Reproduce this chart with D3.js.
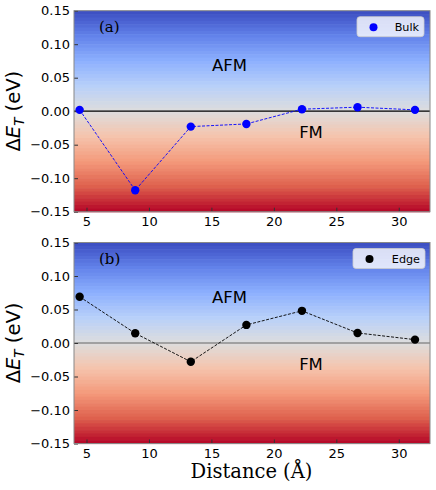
<!DOCTYPE html>
<html>
<head>
<meta charset="utf-8">
<script src="https://cdn.jsdelivr.net/npm/d3@7"></script>
<style>
  body { margin: 0; background: #fff; }
  text { font-family: "DejaVu Sans", sans-serif; }
</style>
</head>
<body>
<div id="chart"></div>
<script>
// data
var distance = [4.45, 8.9, 13.35, 17.8, 22.25, 26.7, 31.3];
var bulkDE = [0.002, -0.118, -0.023, -0.019, 0.003, 0.006, 0.002];
var edgeDE = [0.069, 0.0145, -0.028, 0.027, 0.048, 0.015, 0.005];
var xTicks = [5, 10, 15, 20, 25, 30];
var yTicks = [-0.15, -0.10, -0.05, 0.00, 0.05, 0.10, 0.15];

var svgWidth = 436, svgHeight = 490;
var margin = {left: 74, right: 6};
var width = svgWidth - margin.left - margin.right;
var panelH = 201;

var svg = d3.select("#chart").append("svg")
    .attr("width", svgWidth)
    .attr("height", svgHeight);

var x = d3.scaleLinear().domain([4, 32.5]).range([0, width]);

// coolwarm, reversed so blue sits on top
var coolwarm = d3.scaleLinear()
    .domain([0, 0.125, 0.25, 0.375, 0.5, 0.625, 0.75, 0.875, 1])
    .range(["#3b4cc0", "#6282ea", "#8db0fe", "#b8d0f9", "#dddddd",
            "#f5c4ad", "#f49a7b", "#de604d", "#b40426"]);

var panels = [
    {top: 10.7, values: bulkDE, color: "blue", line: "blue", zero: "#000", tag: "(a)", name: "Bulk",
     legend: {x: 357, w: 67}},
    {top: 242.5, values: edgeDE, color: "black", line: "#000", zero: "#666", tag: "(b)", name: "Edge",
     legend: {x: 353, w: 72}}
];

panels.forEach(function(p, i) {
    var g = svg.append("g").attr("transform", `translate(${margin.left},${p.top})`);
    var y = d3.scaleLinear().domain([-0.15, 0.15]).range([panelH, 0]);

    // banded background
    var nBands = 60;
    var bands = d3.range(nBands);
    g.selectAll("rect.band").data(bands).enter().append("rect")
        .attr("class", "band")
        .attr("x", 0)
        .attr("width", width)
        .attr("y", d => d * panelH / nBands)
        .attr("height", panelH / nBands + 0.6)
        .attr("fill", d => coolwarm((d + 0.5) / nBands));

    // zero line
    g.append("line")
        .attr("x1", 0).attr("x2", width)
        .attr("y1", y(0)).attr("y2", y(0))
        .attr("stroke", p.zero).attr("stroke-width", 1.2);

    // axes, ticks inward
    var bottomAxis = d3.axisBottom(x).tickValues(xTicks).tickSize(-4).tickPadding(5)
        .tickFormat(d3.format("d"));
    var leftAxis = d3.axisLeft(y).tickValues(yTicks).tickSize(-4).tickPadding(4)
        .tickFormat(d => d3.format(".2f")(d).replace("-", "\u2212"));

    var bx = g.append("g").attr("transform", `translate(0,${panelH})`).call(bottomAxis);
    var ly = g.append("g").call(leftAxis);
    [bx, ly].forEach(function(a) {
        a.select(".domain").remove();
        a.selectAll(".tick line").attr("stroke", "#333");
        a.selectAll(".tick text").attr("fill", "#000").style("font-size", "13px")
            .style("font-family", "DejaVu Sans");
    });

    // frame
    g.append("rect").attr("width", width).attr("height", panelH)
        .attr("fill", "none").attr("stroke", "#888").attr("stroke-width", 1);

    // line + points
    var pts = distance.map((d, k) => [d, p.values[k]]);
    g.append("path")
        .datum(pts)
        .attr("d", d3.line().x(d => x(d[0])).y(d => y(d[1])))
        .attr("fill", "none")
        .attr("stroke", p.line)
        .attr("stroke-width", 0.9)
        .attr("stroke-dasharray", "3,1.5");
    g.selectAll("circle.pt").data(pts).enter().append("circle")
        .attr("class", "pt")
        .attr("cx", d => x(d[0]))
        .attr("cy", d => y(d[1]))
        .attr("r", 4.2)
        .attr("fill", p.color);

    // labels inside
    g.append("text").attr("x", 25).attr("y", 21)
        .style("font-family", "DejaVu Serif").style("font-size", "15px")
        .text(p.tag);
    g.append("text").attr("x", 229.5 - margin.left).attr("y", 60.5)
        .attr("text-anchor", "middle")
        .style("font-size", "16.5px").text("AFM");
    g.append("text").attr("x", 311 - margin.left).attr("y", 127.5)
        .attr("text-anchor", "middle")
        .style("font-size", "16.5px").text("FM");

    // legend
    var lg = svg.append("g").attr("transform", `translate(${p.legend.x},${p.top + 6})`);
    lg.append("rect").attr("width", p.legend.w).attr("height", 20).attr("rx", 3)
        .attr("fill", "rgba(255,255,255,0.8)").attr("stroke", "#ccc").attr("stroke-width", 0.8);
    lg.append("circle").attr("cx", 16.5).attr("cy", 10.5).attr("r", 4).attr("fill", p.color);
    lg.append("text").attr("x", p.legend.w - 5).attr("y", 14.5)
        .attr("text-anchor", "end").style("font-size", "11.2px").text(p.name);

    // y label
    var yl = svg.append("text")
        .attr("transform", `translate(20,${p.top + panelH / 2}) rotate(-90)`)
        .attr("text-anchor", "middle")
        .style("font-size", "19.5px");
    yl.append("tspan").text("\u0394");
    yl.append("tspan").style("font-style", "italic").text("E");
    yl.append("tspan").style("font-style", "italic").style("font-size", "13.5px")
        .attr("dy", 4).text("T");
    yl.append("tspan").attr("dy", -4).text(" (eV)");
});

// x label
svg.append("text")
    .attr("x", 251.5)
    .attr("y", 478)
    .attr("text-anchor", "middle")
    .style("font-family", "DejaVu Serif")
    .style("font-size", "19.5px")
    .text("Distance (\u00c5)");
</script>
</body>
</html>
